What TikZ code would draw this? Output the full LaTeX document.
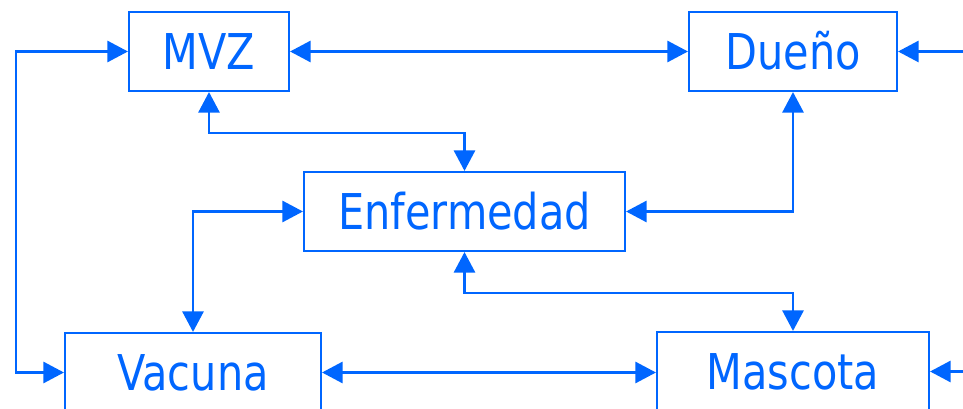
\documentclass[tikz,border=0pt]{standalone}
\usepackage{fontspec}
\setmainfont{DejaVu Sans}[FakeStretch=0.84]
\usetikzlibrary{arrows.meta}
\definecolor{blu}{HTML}{0066FF}
\tikzset{
  box/.style={draw=blu, line width=1.6pt, text=blu, font=\fontsize{37pt}{40pt}\selectfont,
    minimum height=59.25pt, inner sep=0pt, text height=27pt, text depth=0pt},
  conn/.style={draw=blu, line width=1.6pt},
  bi/.style={conn, {Triangle[length=15.5pt,width=16pt]}-{Triangle[length=15.5pt,width=16pt]}},
  uni/.style={conn, -{Triangle[length=15.5pt,width=16pt]}}
}
\begin{document}
\begin{tikzpicture}[x=0.75pt,y=-0.75pt]
\useasboundingbox (0,0) rectangle (963,409);
\clip (0,0) rectangle (963,409);
\node[box, minimum width=120pt] (mvz) at (209,51.5) {MVZ};
\node[box, minimum width=156pt] (due) at (793,51.5) {Dueño};
\node[box, minimum width=240.75pt] (enf) at (464.5,211.5) {Enfermedad};
\node[box, minimum width=192pt] (vac) at (193,372.5) {Vacuna};
\node[box, minimum width=204pt] (mas) at (793,371.5) {Mascota};
\coordinate (r1) at (963,51.5);
\coordinate (r2) at (963,371.5);
\draw[bi] (mvz.west) -- ++(-112,0) |- (vac.west);
\draw[bi] (mvz.east) -- (due.west);
\draw[uni] (r1) -- (due.east);
\draw[uni] (r2) -- (mas.east);
\draw[bi] (mvz.south) -- ++(0,41) -| (enf.north);
\draw[bi] (due.south) |- (enf.east);
\draw[bi] (enf.west) -| (vac.north);
\draw[bi] (enf.south) -- ++(0,41) -| (mas.north);
\draw[bi] (vac.east) -- (vac.east -| mas.west);
\end{tikzpicture}
\end{document}
